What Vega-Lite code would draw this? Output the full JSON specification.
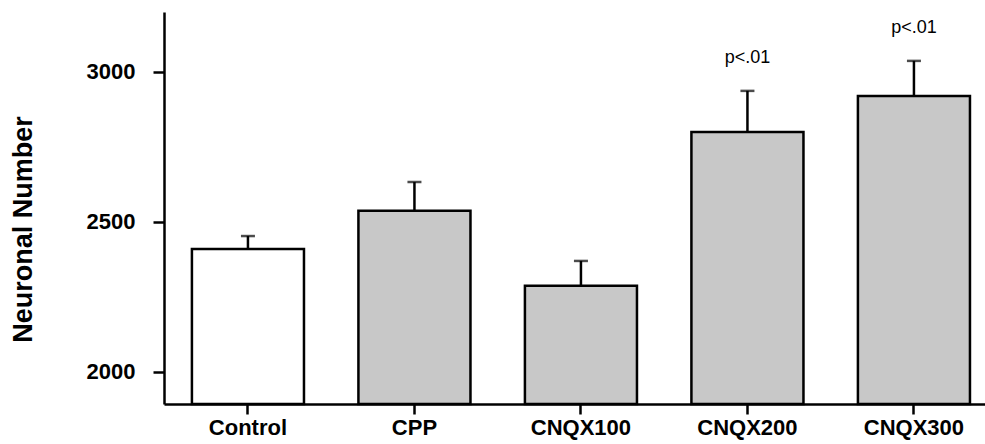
{
  "$schema": "https://vega.github.io/schema/vega-lite/v6.json",
  "width": 821,
  "height": 392,
  "autosize": "none",
  "padding": {"left": 164, "top": 12, "right": 0, "bottom": 40},
  "background": "white",
  "config": {
    "view": {"stroke": null},
    "font": "Liberation Sans"
  },
  "data": {
    "values": [
      {"group": "Control", "kind": "control", "mean": 2410, "upper": 2453, "sig": ""},
      {"group": "CPP", "kind": "treated", "mean": 2537, "upper": 2633, "sig": ""},
      {"group": "CNQX100", "kind": "treated", "mean": 2287, "upper": 2370, "sig": ""},
      {"group": "CNQX200", "kind": "treated", "mean": 2800, "upper": 2937, "sig": "p<.01"},
      {"group": "CNQX300", "kind": "treated", "mean": 2920, "upper": 3037, "sig": "p<.01"}
    ]
  },
  "encoding": {
    "x": {
      "field": "group",
      "type": "nominal",
      "sort": null,
      "scale": {"paddingInner": 0.327, "paddingOuter": 0.129, "align": 0.65},
      "axis": {
        "title": null,
        "labelAngle": 0,
        "labelFont": "Liberation Sans",
        "labelFontWeight": "bold",
        "labelFontSize": 22,
        "labelColor": "black",
        "labelPadding": 3,
        "tickSize": 10,
        "tickWidth": 2.5,
        "tickColor": "black",
        "domainColor": "black",
        "domainWidth": 2.5
      }
    }
  },
  "layer": [
    {
      "mark": {"type": "rule", "stroke": "black", "strokeWidth": 2.5},
      "encoding": {
        "y": {"field": "mean", "type": "quantitative"},
        "y2": {"field": "upper"}
      }
    },
    {
      "mark": {"type": "tick", "color": "black", "size": 14, "thickness": 2.5, "orient": "horizontal"},
      "encoding": {
        "y": {"field": "upper", "type": "quantitative"}
      }
    },
    {
      "mark": {"type": "bar", "stroke": "black", "strokeWidth": 2.5},
      "encoding": {
        "y": {
          "field": "mean",
          "type": "quantitative",
          "scale": {"domain": [1893, 3200], "zero": false, "nice": false},
          "axis": {
            "title": "Neuronal Number",
            "values": [2000, 2500, 3000],
            "format": "d",
            "grid": false,
            "labelFont": "Liberation Sans",
            "labelFontWeight": "bold",
            "labelFontSize": 22,
            "labelColor": "black",
            "labelPadding": 18,
            "tickSize": 11,
            "tickWidth": 2.5,
            "tickColor": "black",
            "domainColor": "black",
            "domainWidth": 2.5,
            "titleFont": "Liberation Sans",
            "titleFontWeight": "bold",
            "titleFontSize": 27,
            "titleColor": "black",
            "titleAngle": -90,
            "titleAlign": "center",
            "titleBaseline": "middle",
            "titleX": -141,
            "titleY": 217
          }
        },
        "y2": {"datum": 1893},
        "fill": {
          "field": "kind",
          "type": "nominal",
          "scale": {"domain": ["control", "treated"], "range": ["white", "#c8c8c8"]},
          "legend": null
        }
      }
    },
    {
      "transform": [{"filter": "datum.sig != ''"}],
      "mark": {"type": "text", "font": "Liberation Sans", "fontSize": 18, "color": "black", "baseline": "middle", "dy": -33},
      "encoding": {
        "y": {"field": "upper", "type": "quantitative"},
        "text": {"field": "sig"}
      }
    }
  ]
}
